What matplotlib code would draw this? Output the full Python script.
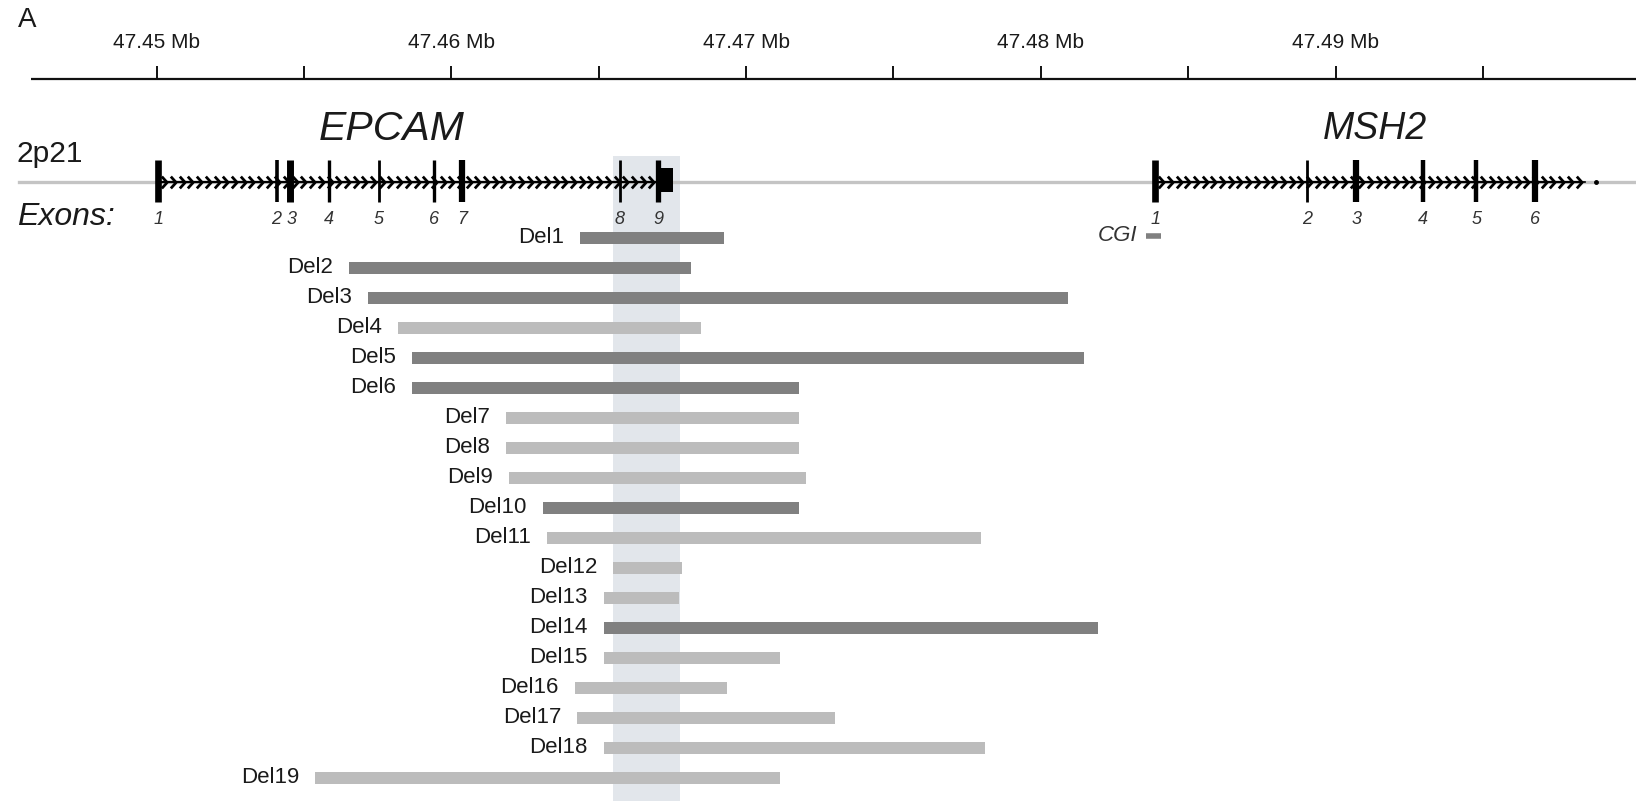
import numpy as np
import matplotlib.pyplot as plt
from matplotlib.path import Path
from matplotlib.patches import Rectangle

plt.rcParams['font.family'] = ['Liberation Sans', 'DejaVu Sans']

# ================> Data (positions in Mb)
del_names = ['Del%d' % i for i in range(1, 20)]
del_start = [47.46437, 47.45653, 47.45716, 47.45819, 47.45868, 47.45868, 47.46186,
             47.46186, 47.46195, 47.46310, 47.46326, 47.46549, 47.46517, 47.46517,
             47.46517, 47.46419, 47.46427, 47.46517, 47.45538]
del_end = [47.46926, 47.46815, 47.48092, 47.46848, 47.48147, 47.47179, 47.47179,
           47.47179, 47.47202, 47.47179, 47.47796, 47.46783, 47.46773, 47.48195,
           47.47115, 47.46935, 47.47303, 47.47812, 47.47115]
del_dark = [1, 1, 1, 0, 1, 1, 0, 0, 0, 1, 0, 0, 0, 1, 0, 0, 0, 0, 0]

epcam_exons = [47.45006, 47.45408, 47.45453, 47.45585, 47.45754, 47.45942,
               47.46037, 47.46572, 47.46703]
epcam_labels = ['1', '2', '3', '4', '5', '6', '7', '8', '9']
epcam_utr_end = 47.46752

msh2_exons = [47.48388, 47.48904, 47.49071, 47.49296, 47.49478, 47.49676]
msh2_labels = ['1', '2', '3', '4', '5', '6']
msh2_end = 47.49828

cgi = (47.48356, 47.48409)
shade = (47.46550, 47.46776)

major_ticks = [47.45, 47.46, 47.47, 47.48, 47.49]
minor_ticks = [47.455, 47.465, 47.475, 47.485, 47.495]

# ================> Layout (y in pixel-like units, top = 0)
_PX = 28250.0  # px per Mb
X0 = 47.45 - 150 / _PX
X1 = 47.45 + 1418 / _PX
Y_AXIS = 76
Y_GENE = 174.5
Y_EX_TOP, Y_EX_BOT = 153, 194
Y_EX_LAB = 210
ROW0, ROW_STEP = 228, 28.75
DARK, LIGHT = '#808080', '#bcbcbc'
TXT = '#1a1a1a'

fig = plt.figure(figsize=(16.36, 8.01), dpi=100)
ax = fig.add_axes([0, 0, 1, 1])
ax.set_xlim(X0, X1)
ax.set_ylim(768, 0)
ax.axis('off')

# coordinate axis on top
ax.plot([47.45 - 120 / _PX, X1], [Y_AXIS, Y_AXIS], color='#111111', lw=1.6, solid_capstyle='butt')
ax.vlines(major_ticks + minor_ticks, Y_AXIS - 13, Y_AXIS, color='#111111', lw=1.4)
for t in major_ticks:
    ax.text(t, 41, '%.2f Mb' % t, ha='center', va='center', fontsize=15, color=TXT)

ax.text(47.45 - 133 / _PX, 19, 'A', ha='left', va='center', fontsize=20, color=TXT)

# highlighted exon 9 area
ax.add_patch(Rectangle((shade[0], 150), shade[1] - shade[0], 620,
                       facecolor='#e2e6eb', edgecolor='none', zorder=0))

# chromosome line
ax.plot([47.45 - 132 / _PX, X1], [Y_GENE, Y_GENE], color='#c4c4c4', lw=2.4, zorder=1)

ax.text(47.45 - 134 / _PX, 148, '2p21', ha='left', va='center', fontsize=21.5, color=TXT)
ax.text(47.45 - 134 / _PX, 208, 'Exons:', ha='left', va='center', fontsize=23,
        style='italic', color=TXT)

# chevron marker
chev = Path([(-0.45, 1.0), (0.45, 0.0), (-0.45, -1.0)],
            [Path.MOVETO, Path.LINETO, Path.LINETO])


def draw_gene(exons, end, widths, step):
    ax.plot([exons[0], end], [Y_GENE, Y_GENE], color='black', lw=1.6, zorder=2)
    xs = np.arange(exons[0] + step * 0.7, end, step)
    ax.plot(xs, np.full_like(xs, Y_GENE), ls='none', marker=chev, markersize=8.5,
            markerfacecolor='none', markeredgecolor='black', markeredgewidth=2.0, zorder=3)
    ax.vlines(exons, Y_EX_TOP, Y_EX_BOT, colors='black', lw=widths, zorder=4)


draw_gene(epcam_exons, epcam_exons[-1], [4.8, 2.6, 5, 2.4, 2.0, 2.4, 4.5, 2.0, 3.8], 0.000295)
ax.add_patch(Rectangle((epcam_exons[-1], 161), epcam_utr_end - epcam_exons[-1], 23,
                       facecolor='black', edgecolor='none', zorder=4))
draw_gene(msh2_exons, msh2_end, [4.8, 2.0, 4.5, 3.2, 3.2, 4.5], 0.000295)
ax.plot([msh2_end, msh2_end + 0.0002], [Y_GENE, Y_GENE], color='black', lw=1.2, zorder=2)
ax.plot([msh2_end + 0.00057], [Y_GENE], 'o', color='black', markersize=2.5, zorder=3)

lab_shift = {1: -0.00003, 2: 0.00004}
for i, (x, lab) in enumerate(zip(epcam_exons, epcam_labels)):
    ax.text(x + lab_shift.get(i, 0), Y_EX_LAB, lab, ha='center', va='center',
            fontsize=13, style='italic', color='#333333')
for x, lab in zip(msh2_exons, msh2_labels):
    ax.text(x, Y_EX_LAB, lab, ha='center', va='center',
            fontsize=13, style='italic', color='#333333')

ax.text(375 / _PX + X0, 124, 'EPCAM', ha='center', va='center', fontsize=29.5,
        style='italic', color=TXT)
ax.text(1318 / _PX + X0, 124, 'MSH2', ha='center', va='center', fontsize=27,
        style='italic', color=TXT)

# CpG island
ax.plot(cgi, [226, 226], color=DARK, lw=4, solid_capstyle='butt')
ax.text(cgi[0] - 0.0003, 226, 'CGI', ha='right', va='center', fontsize=16,
        style='italic', color='#333333')

# deletions
for i, (name, s, e, d) in enumerate(zip(del_names, del_start, del_end, del_dark)):
    y = ROW0 + i * ROW_STEP
    ax.barh(y, e - s, left=s, height=11.5, color=DARK if d else LIGHT, zorder=2)
    ax.annotate(name, (s, y), xytext=(-11.5, 0), textcoords='offset points',
                ha='right', va='center', fontsize=16, color=TXT)

fig.savefig('out.png', dpi=100)
